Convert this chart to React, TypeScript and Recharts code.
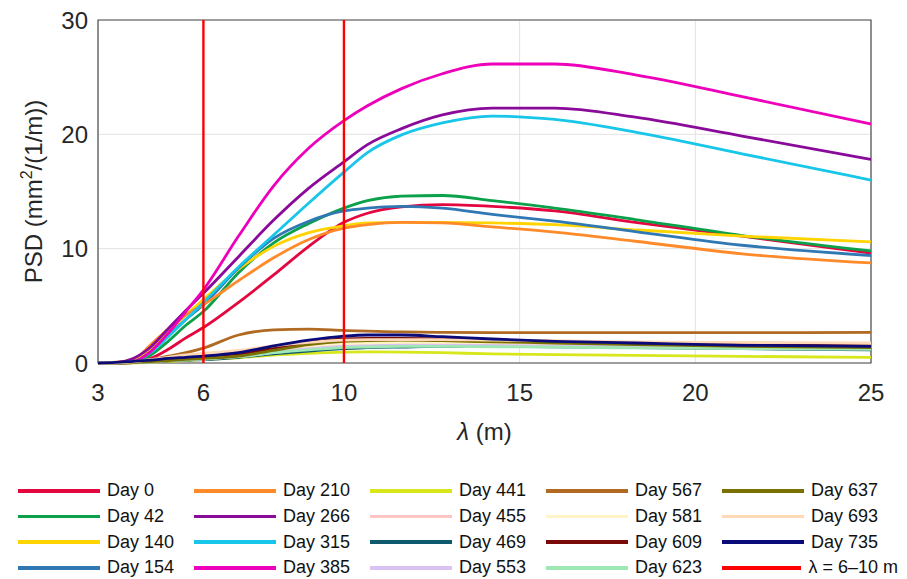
import React from 'react';
import { LineChart, Line, XAxis, YAxis, CartesianGrid, ReferenceLine, ReferenceArea } from 'recharts';

// wavelength samples (m)
const LAMBDA = [3, 3.5, 4, 4.5, 5, 5.5, 6, 7, 8, 9, 10, 10.67, 11.64, 12.8, 14.22, 16, 18.29, 21.33, 25];

// PSD (mm^2/(1/m)) per survey day, one value per LAMBDA sample
const DAY_0 = [0, 0.02, 0.05, 0.4, 1.2, 2.2, 3.1, 5.3, 7.7, 10.2, 12.3, 13.1, 13.65, 13.85, 13.7, 13.3, 12.3, 11.1, 9.6];
const DAY_42 = [0, 0.02, 0.05, 0.7, 1.9, 3.3, 4.5, 7.9, 10.5, 12.2, 13.55, 14.2, 14.6, 14.65, 14.2, 13.55, 12.55, 11.15, 9.8];
const DAY_140 = [0, 0.03, 0.2, 1.2, 2.7, 4.2, 5.55, 8.2, 10.2, 11.4, 12.0, 12.25, 12.3, 12.3, 12.25, 12.1, 11.65, 11.1, 10.6];
const DAY_154 = [0, 0.02, 0.1, 1.0, 2.4, 3.8, 5.1, 8.3, 10.9, 12.4, 13.3, 13.55, 13.7, 13.55, 13.0, 12.4, 11.5, 10.3, 9.4];
const DAY_210 = [0, 0.08, 0.3, 1.6, 3.0, 4.2, 5.1, 7.2, 9.2, 10.8, 11.8, 12.1, 12.3, 12.25, 11.9, 11.45, 10.65, 9.55, 8.75];
const DAY_266 = [0, 0.03, 0.4, 1.4, 3.0, 4.6, 6.1, 9.3, 12.5, 15.3, 17.6, 19.1, 20.5, 21.7, 22.3, 22.3, 21.5, 19.85, 17.8];
const DAY_315 = [0, 0.02, 0.1, 0.9, 2.3, 3.8, 5.3, 8.4, 11.2, 14.0, 16.7, 18.4, 19.95, 21.0, 21.6, 21.3, 20.2, 18.3, 16.0];
const DAY_385 = [0, 0.02, 0.1, 1.0, 2.6, 4.5, 6.4, 11.1, 15.5, 18.8, 21.2, 22.5, 24.0, 25.3, 26.15, 26.15, 25.2, 23.3, 20.9];
const DAY_441 = [0, 0, 0.02, 0.08, 0.15, 0.22, 0.3, 0.45, 0.7, 0.85, 0.95, 0.97, 0.95, 0.9, 0.8, 0.73, 0.66, 0.58, 0.5];
const DAY_455 = [0, 0.01, 0.05, 0.15, 0.3, 0.4, 0.5, 0.75, 1.1, 1.4, 1.6, 1.68, 1.72, 1.7, 1.65, 1.6, 1.55, 1.48, 1.4];
const DAY_469 = [0, 0, 0.03, 0.1, 0.18, 0.25, 0.3, 0.5, 0.8, 1.05, 1.25, 1.35, 1.4, 1.45, 1.45, 1.42, 1.35, 1.25, 1.15];
const DAY_553 = [0, 0, 0.03, 0.1, 0.2, 0.28, 0.35, 0.55, 0.9, 1.25, 1.5, 1.55, 1.6, 1.6, 1.55, 1.5, 1.45, 1.38, 1.3];
const DAY_567 = [0, 0.02, 0.08, 0.3, 0.6, 0.9, 1.3, 2.45, 2.9, 2.97, 2.85, 2.78, 2.72, 2.68, 2.65, 2.65, 2.65, 2.66, 2.67];
const DAY_581 = [0, 0.01, 0.06, 0.2, 0.35, 0.5, 0.6, 0.85, 1.2, 1.5, 1.7, 1.75, 1.8, 1.8, 1.78, 1.75, 1.72, 1.7, 1.7];
const DAY_609 = [0, 0, 0.04, 0.12, 0.22, 0.35, 0.45, 0.7, 1.3, 1.8, 2.1, 2.15, 2.15, 2.1, 2.0, 1.9, 1.75, 1.6, 1.5];
const DAY_623 = [0, 0, 0.03, 0.1, 0.2, 0.28, 0.35, 0.55, 0.9, 1.15, 1.35, 1.4, 1.45, 1.45, 1.42, 1.38, 1.32, 1.25, 1.2];
const DAY_637 = [0, 0, 0.04, 0.12, 0.22, 0.32, 0.4, 0.6, 1.1, 1.6, 1.9, 1.97, 2.0, 1.95, 1.85, 1.75, 1.6, 1.45, 1.35];
const DAY_693 = [0, 0.02, 0.1, 0.3, 0.5, 0.7, 0.85, 1.1, 1.5, 1.8, 2.0, 2.05, 2.05, 2.05, 2.0, 1.95, 1.85, 1.8, 1.75];
const DAY_735 = [0, 0.05, 0.15, 0.25, 0.4, 0.5, 0.6, 0.9, 1.5, 2.0, 2.35, 2.45, 2.45, 2.3, 2.1, 1.9, 1.75, 1.55, 1.45];

const X_TICKS = [3, 6, 10, 15, 20, 25];
const Y_TICKS = [0, 10, 20, 30];
const BAND = [6, 10];
const BAND_LABEL = 'λ = 6–10 m';

const SERIES = [
  { key: 'd0', name: 'Day 0', color: '#e3063f', values: DAY_0 },
  { key: 'd42', name: 'Day 42', color: '#0aa14a', values: DAY_42 },
  { key: 'd140', name: 'Day 140', color: '#ffd400', values: DAY_140 },
  { key: 'd154', name: 'Day 154', color: '#2f78b4', values: DAY_154 },
  { key: 'd210', name: 'Day 210', color: '#ff8a2a', values: DAY_210 },
  { key: 'd266', name: 'Day 266', color: '#8a0a9a', values: DAY_266 },
  { key: 'd315', name: 'Day 315', color: '#17c6e8', values: DAY_315 },
  { key: 'd385', name: 'Day 385', color: '#ee00bb', values: DAY_385 },
  { key: 'd441', name: 'Day 441', color: '#d8e61c', values: DAY_441 },
  { key: 'd455', name: 'Day 455', color: '#ffc4c4', values: DAY_455 },
  { key: 'd469', name: 'Day 469', color: '#0f5a6e', values: DAY_469 },
  { key: 'd553', name: 'Day 553', color: '#dac2f2', values: DAY_553 },
  { key: 'd567', name: 'Day 567', color: '#b06a22', values: DAY_567 },
  { key: 'd581', name: 'Day 581', color: '#fff4c6', values: DAY_581 },
  { key: 'd609', name: 'Day 609', color: '#7a0a0a', values: DAY_609 },
  { key: 'd623', name: 'Day 623', color: '#9ee8b4', values: DAY_623 },
  { key: 'd637', name: 'Day 637', color: '#7a7000', values: DAY_637 },
  { key: 'd693', name: 'Day 693', color: '#ffd8b8', values: DAY_693 },
  { key: 'd735', name: 'Day 735', color: '#0a0a78', values: DAY_735 },
];

const data = LAMBDA.map((lambda, i) => {
  const row: Record<string, number> = { lambda };
  SERIES.forEach((s) => { row[s.key] = s.values[i]; });
  return row;
});

const FONT = '"Liberation Sans", Arial, sans-serif';
const INK = '#262626';

const renderXLabel = (props: any) => {
  const { x, y, width } = props.viewBox;
  return (
    <text x={x + width / 2} y={y + 77} textAnchor="middle" fontFamily={FONT} fontSize={24} fill={INK}>
      <tspan fontStyle="italic">λ</tspan> (m)
    </text>
  );
};

const renderYLabel = (props: any) => {
  const { y, height } = props.viewBox;
  const cx = 42;
  const cy = y + height / 2;
  return (
    <text x={cx} y={cy} transform={`rotate(-90, ${cx}, ${cy})`} textAnchor="middle" fontFamily={FONT} fontSize={24} fill={INK}>
      PSD (mm<tspan dy={-10} fontSize={16}>2</tspan><tspan dy={10}>/(1/m))</tspan>
    </text>
  );
};

const legendItems = [
  ...SERIES.map((s) => ({ name: s.name, color: s.color })),
  { name: BAND_LABEL, color: '#ff0000' },
];

const ChartLegend = () => (
  <div
    style={{
      position: 'absolute',
      left: 18,
      top: 478,
      display: 'grid',
      gridTemplateRows: 'repeat(4, 25.7px)',
      gridTemplateColumns: 'repeat(5, 176px)',
      gridAutoFlow: 'column',
      fontFamily: FONT,
      fontSize: 18,
      color: '#111',
    }}
  >
    {legendItems.map((item) => (
      <div key={item.name} style={{ display: 'flex', alignItems: 'center', whiteSpace: 'nowrap' }}>
        <span style={{ display: 'inline-block', width: 82, height: 3.5, background: item.color, marginRight: 7 }} />
        <span>{item.name}</span>
      </div>
    ))}
  </div>
);

export default function App() {
  return (
    <div style={{ position: 'absolute', left: 0, top: 0, width: 907, height: 579, background: '#fff' }}>
      <LineChart width={907} height={460} data={data} margin={{ top: 20, right: 36, left: 0, bottom: 0 }}>
        <CartesianGrid stroke="#e2e2e2" strokeWidth={1} />
        <XAxis
          dataKey="lambda"
          type="number"
          domain={[3, 25]}
          ticks={X_TICKS}
          allowDataOverflow
          height={97}
          axisLine={false}
          tickLine={false}
          tickSize={0}
          tickMargin={21}
          tick={{ fontFamily: FONT, fontSize: 24, fill: INK }}
          label={renderXLabel}
        />
        <YAxis
          type="number"
          domain={[0, 30]}
          ticks={Y_TICKS}
          width={98}
          axisLine={false}
          tickLine={false}
          tickSize={0}
          tickMargin={10}
          tick={{ fontFamily: FONT, fontSize: 24, fill: INK }}
          label={renderYLabel}
        />
        <ReferenceArea x1={3} x2={25} y1={0} y2={30} fill="none" stroke="#4d4d4d" strokeWidth={1.2} />
        {SERIES.map((s) => (
          <Line
            key={s.key}
            type="monotone"
            dataKey={s.key}
            name={s.name}
            stroke={s.color}
            strokeWidth={2.8}
            dot={false}
            isAnimationActive={false}
          />
        ))}
        {BAND.map((b) => (
          <ReferenceLine key={b} x={b} stroke="#ff0000" strokeWidth={2.4} />
        ))}
      </LineChart>
      <ChartLegend />
    </div>
  );
}
